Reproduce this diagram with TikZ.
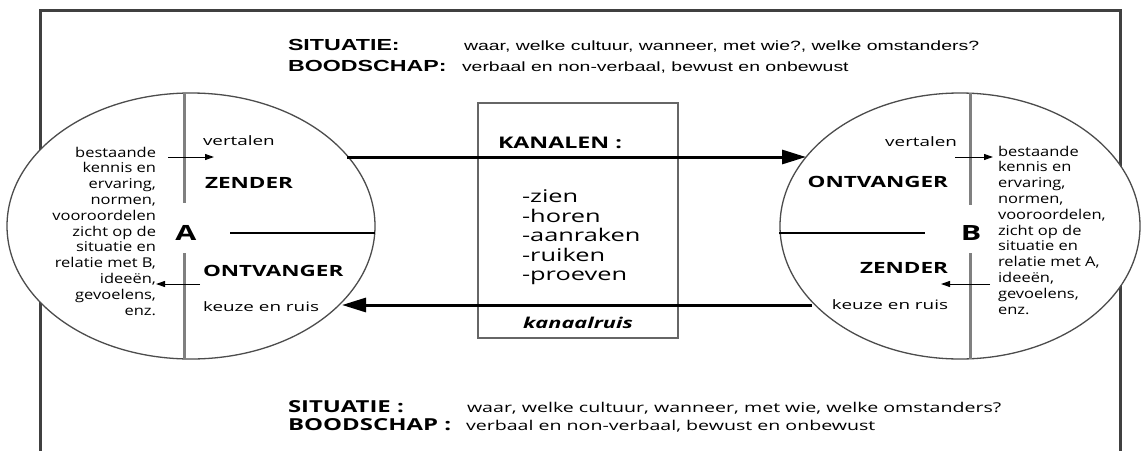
\documentclass[tikz,border=0pt]{standalone}
\usepackage{fontspec}
\setmainfont{Open Sans}
\newfontfamily\arialf{Liberation Sans}
\usetikzlibrary{arrows.meta,shapes.geometric}
\begin{document}
\begin{tikzpicture}[x=1pt,y=-1pt,
  txt/.style={inner sep=0pt, outer sep=0pt, xscale=1.45},
  topb/.style={txt, font=\arialf\fontsize{16}{19}\selectfont\bfseries},
  topr/.style={txt, font=\arialf\fontsize{13.4}{16}\selectfont},
  botb/.style={txt, font=\fontsize{16.5}{18}\selectfont\bfseries},
  botr/.style={txt, font=\fontsize{13.5}{16}\selectfont},
  sm/.style={txt, font=\fontsize{13}{15.8}\selectfont},
  col/.style={inner sep=0pt, outer sep=0pt, xscale=1.22, font=\fontsize{13.5}{15.8}\selectfont},
  lbl/.style={txt, font=\fontsize{15.5}{18}\selectfont\bfseries},
  big/.style={txt, font=\fontsize{21}{24}\selectfont\bfseries},
  frameline/.style={draw=black!75, line width=3pt, line join=miter},
  circ/.style={ellipse, draw=black!70, line width=1.3pt, fill=white, inner sep=0pt},
  divider/.style={draw=black!50, line width=3pt},
  hline/.style={draw=black, line width=1.2pt},
  bigarrow/.style={line width=3pt, -{Triangle[length=24pt,width=14pt]}},
  smallarrow/.style={line width=1pt, -{Triangle[length=9pt,width=6pt]}},
]
\useasboundingbox (0,0) rectangle (1143,450);
\fill[white] (0,0) rectangle (1143,450);

% frame
\draw[frameline] (40,452) -- (40,10) -- (1120,10) -- (1120,452);

% top texts
\node[topb, anchor=base west] (sit1) at (288,50) {SITUATIE:};
\node[topb, anchor=base west] (bood1) at (288,71) {BOODSCHAP:};
\node[topr, anchor=base west] (sit1t) at (464,50) {waar, welke cultuur, wanneer, met wie?, welke omstanders?};
\node[topr, anchor=base west] (bood1t) at (462,71) {verbaal en non-verbaal, bewust en onbewust};

% circles
\node[circ, minimum width=368, minimum height=266] (cA) at (191,226) {};
\node[circ, minimum width=360, minimum height=266] (cB) at (960,226) {};

% dividers
\draw[divider] (184,93) -- (184,203);
\draw[divider] (184,253) -- (184,359);
\draw[divider] (970,93) -- (970,205);
\draw[divider] (970,253) -- (970,359);
\draw[hline] (230,233) -- (375,233);
\draw[hline] (779,233) -- (925,233);

% kanalen box
\node[draw=black!60, line width=2pt, minimum width=200, minimum height=235, inner sep=0pt] (kan) at (578,220.5) {};
\node[txt, font=\fontsize{16}{19}\selectfont\bfseries, anchor=base west] (kant) at (498,148) {KANALEN :};
\node[txt, font=\fontsize{17.5}{19.5}\selectfont, align=left, anchor=north west] (kanl) at (522,190) {-zien\\-horen\\-aanraken\\-ruiken\\-proeven};
\node[txt, font=\fontsize{15}{18}\selectfont\bfseries\itshape, anchor=base] (ruis) at (578,328) {kanaalruis};

% big arrows
\coordinate (a1) at (347,157);
\coordinate (b1) at (806,157);
\coordinate (b2) at (812,305);
\coordinate (a2) at (342,305);
\draw[bigarrow] (a1) -- (b1);
\draw[bigarrow] (b2) -- (a2);

% circle A texts
\node[col, align=right, anchor=east] (kA) at (156,231) {bestaande\\kennis en\\ervaring,\\normen,\\vooroordelen\\zicht op de\\situatie en\\relatie met B,\\ideeën,\\gevoelens,\\enz.};
\node[sm, anchor=base west] (vA) at (203,145) {vertalen};
\node[lbl, anchor=base west] (zA) at (205,188) {ZENDER};
\node[lbl, anchor=base west] (oA) at (203,276) {ONTVANGER};
\node[sm, anchor=base west] (rA) at (203,311) {keuze en ruis};
\node[big] (lA) at (186,233) {A};

% circle B texts
\node[col, align=left, anchor=west] (kB) at (998,230) {bestaande\\kennis en\\ervaring,\\normen,\\vooroordelen,\\zicht op de\\situatie en\\relatie met A,\\ideeën,\\gevoelens,\\enz.};
\node[sm, anchor=base east] (vB) at (957,146) {vertalen};
\node[lbl, anchor=base east] (oB) at (948,187) {ONTVANGER};
\node[lbl, anchor=base east] (zB) at (948,273) {ZENDER};
\node[sm, anchor=base east] (rB) at (948,309) {keuze en ruis};
\node[big] (lB) at (971,233) {B};

% small arrows
\coordinate (sa1) at (168,157); \coordinate (sa1e) at (214,157);
\coordinate (sa2) at (200,284); \coordinate (sa2e) at (156,284);
\coordinate (sb1) at (955,157); \coordinate (sb1e) at (993,157);
\coordinate (sb2) at (990,284); \coordinate (sb2e) at (941,284);
\draw[smallarrow] (sa1) -- (sa1e);
\draw[smallarrow] (sa2) -- (sa2e);
\draw[smallarrow] (sb1) -- (sb1e);
\draw[smallarrow] (sb2) -- (sb2e);

% bottom texts
\node[botb, anchor=base west] (sit2) at (288,412) {SITUATIE :};
\node[botb, anchor=base west] (bood2) at (288,430) {BOODSCHAP :};
\node[botr, anchor=base west] (sit2t) at (467,412) {waar, welke cultuur, wanneer, met wie, welke omstanders?};
\node[botr, anchor=base west] (bood2t) at (466,430) {verbaal en non-verbaal, bewust en onbewust};
\end{tikzpicture}
\end{document}
